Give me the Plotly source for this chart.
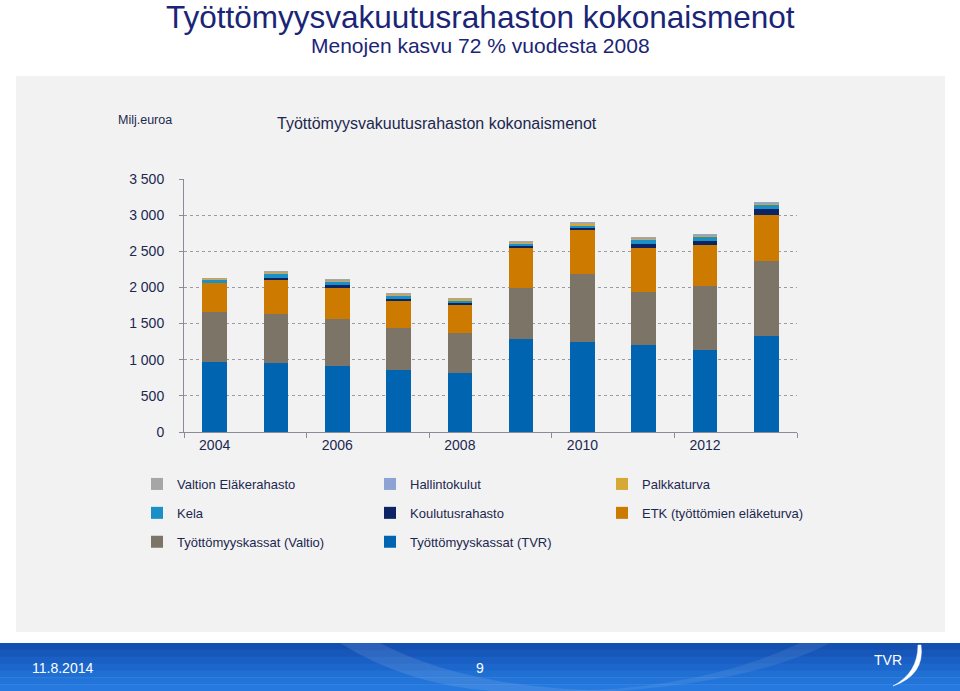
import plotly.graph_objects as go

years = [2004, 2005, 2006, 2007, 2008, 2009, 2010, 2011, 2012, 2013]
tick_years = [2004, 2006, 2008, 2010, 2012]
tvr = [965, 957, 917, 857, 820, 1286, 1249, 1203, 1134, 1327]
valtio = [695, 680, 645, 585, 549, 705, 940, 737, 884, 1032]
etk = [405, 478, 443, 374, 396, 553, 599, 604, 567, 646]
koulutus = [3, 18, 27, 27, 23, 37, 32, 55, 60, 78]
kela = [37, 55, 50, 42, 32, 27, 37, 60, 55, 60]
palkka = [15, 20, 18, 17, 20, 12, 22, 20, 22, 20]
hallinto = [5, 5, 5, 5, 7, 5, 7, 5, 7, 9]
elake = [5, 5, 5, 5, 6, 5, 7, 5, 7, 9]
y_ticks = [0, 500, 1000, 1500, 2000, 2500, 3000, 3500]

# (name, values, colour, legend column, row in legend)
series = [
    ("Työttömyyskassat (TVR)", tvr, "#0064b1", "legend2", 3),
    ("Työttömyyskassat (Valtio)", valtio, "#7d7468", "legend", 3),
    ("ETK (työttömien eläketurva)", etk, "#cc7a00", "legend3", 2),
    ("Koulutusrahasto", koulutus, "#0c2464", "legend2", 2),
    ("Kela", kela, "#1b90c6", "legend", 2),
    ("Palkkaturva", palkka, "#d6a935", "legend3", 1),
    ("Hallintokulut", hallinto, "#8ca3d3", "legend2", 1),
    ("Valtion Eläkerahasto", elake, "#a6a6a6", "legend", 1),
]

NAVY = "#1c2850"
TITLE = "#1b2576"
FONT = "Liberation Sans, Arial, sans-serif"

W, H = 960, 691
L, R, T, B = 184, 797, 179, 432


def px(x):
    return (x - L) / (R - L)


def py(y):
    return (B - y) / (B - T)


fig = go.Figure()
for name, vals, col, leg, rank in series:
    fig.add_trace(go.Bar(
        x=years, y=vals, name=name, marker=dict(color=col, line=dict(width=0)),
        legend=leg, legendgroup=name, legendrank=rank,
    ))

shapes = [
    dict(type="rect", xref="paper", yref="paper", x0=px(16), x1=px(945),
         y0=py(632), y1=py(76), fillcolor="#f2f2f2", line=dict(width=0), layer="below"),
]
band_cols = ["#1450b0", "#1757ba", "#1a5fc3", "#1d66cb", "#2070d3", "#2374d9", "#2679de"]
y0 = 643
step = (691 - 643) / len(band_cols)
for k, c in enumerate(band_cols):
    shapes.append(dict(type="rect", xref="paper", yref="paper", x0=px(0), x1=px(960),
                       y0=py(y0 + (k + 1) * step + 0.5), y1=py(y0 + k * step),
                       fillcolor=c, line=dict(width=0), layer="below"))
shapes.append(dict(type="path", xref="paper", yref="paper",
                   path=f"M {px(340)},{py(643)} Q {px(430)},{py(700)} {px(560)},{py(691)} L {px(620)},{py(691)} Q {px(470)},{py(690)} {px(380)},{py(643)} Z",
                   fillcolor="rgba(255,255,255,0.10)", line=dict(width=0), layer="below"))
shapes.append(dict(type="path", xref="paper", yref="paper",
                   path=f"M {px(800)},{py(643)} Q {px(700)},{py(690)} {px(560)},{py(691)} L {px(620)},{py(691)} Q {px(760)},{py(680)} {px(830)},{py(643)} Z",
                   fillcolor="rgba(255,255,255,0.08)", line=dict(width=0), layer="below"))
shapes.append(dict(type="path", xref="paper", yref="paper",
                   path=f"M {px(921)},{py(645)} Q {px(925)},{py(675)} {px(893)},{py(686)} Q {px(918)},{py(673)} {px(918)},{py(645)} Z",
                   fillcolor="white", line=dict(color="white", width=0.5)))

annotations = [
    dict(text="Työttömyysvakuutusrahaston kokonaismenot", x=px(480), y=py(17),
         font=dict(family=FONT, size=31.5, color=TITLE)),
    dict(text="Menojen kasvu 72 % vuodesta 2008", x=px(480), y=py(46),
         font=dict(family=FONT, size=21, color=TITLE)),
    dict(text="Työttömyysvakuutusrahaston kokonaismenot", x=px(437), y=py(124),
         font=dict(family=FONT, size=16, color=NAVY)),
    dict(text="Milj.euroa", x=px(145), y=py(120),
         font=dict(family=FONT, size=12.5, color=NAVY)),
    dict(text="11.8.2014", x=px(30), y=py(668), xanchor="left",
         font=dict(family=FONT, size=14, color="white")),
    dict(text="9", x=px(480), y=py(668),
         font=dict(family=FONT, size=14, color="white")),
    dict(text="TVR", x=px(888), y=py(660),
         font=dict(family=FONT, size=14, color="white")),
]
for a in annotations:
    a.setdefault("xanchor", "center")
    a.update(xref="paper", yref="paper", yanchor="middle", showarrow=False)

legend_common = dict(
    orientation="v", xanchor="left", yanchor="top", y=py(469),
    font=dict(family=FONT, size=13, color=NAVY), bgcolor="rgba(0,0,0,0)",
    traceorder="grouped", tracegroupgap=9, itemclick=False,
)

fig.update_layout(
    width=W, height=H,
    margin=dict(l=L, r=W - R, t=T, b=H - B, autoexpand=False),
    paper_bgcolor="white", plot_bgcolor="#f2f2f2",
    barmode="stack", bargap=0.6,
    separators=", ",
    showlegend=True,
    legend=dict(**legend_common, x=px(137)),
    legend2=dict(**legend_common, x=px(370)),
    legend3=dict(**legend_common, x=px(602)),
    shapes=shapes, annotations=annotations,
    xaxis=dict(
        range=[2003.5, 2013.5], tickvals=tick_years, ticks="", showgrid=False,
        showline=True, linecolor="#8c8c99", linewidth=1, zeroline=False,
        tickfont=dict(family=FONT, size=14, color=NAVY),
        minor=dict(tickmode="array", tickvals=[2003.5, 2005.5, 2007.5, 2009.5, 2011.5, 2013.5],
                   ticks="outside", ticklen=5, tickcolor="#8c8c99", showgrid=False),
        fixedrange=True,
    ),
    yaxis=dict(
        range=[0, 3500], tickvals=y_ticks, tickformat=",d",
        showgrid=True, gridcolor="#9a9aa6", griddash="dot", gridwidth=1,
        showline=True, linecolor="#8c8c99", linewidth=1, zeroline=False,
        ticks="outside", ticklen=4, tickcolor="#8c8c99", ticklabelstandoff=12,
        tickfont=dict(family=FONT, size=14, color=NAVY),
        fixedrange=True,
    ),
)

fig.write_html("out.html", config={"displayModeBar": False},
               post_script="document.body.style.margin='0';document.body.style.overflow='hidden';")
